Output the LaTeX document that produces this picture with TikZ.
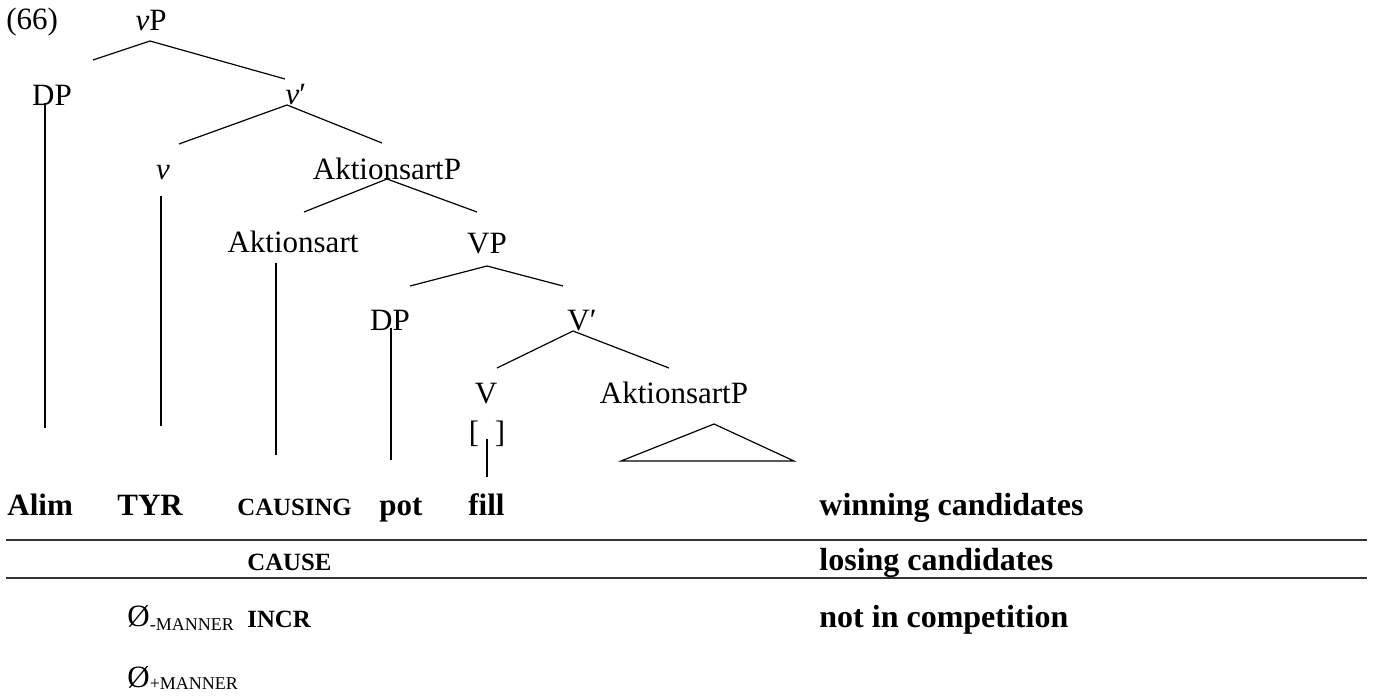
\documentclass[tikz,border=0pt]{standalone}
\usepackage{fontspec}
\setmainfont{Liberation Serif}
\newcommand{\mannersub}[2]{\raisebox{#1}{\fontsize{9}{11}\selectfont\mdseries #2MANNER}}
\begin{document}
\begin{tikzpicture}[x=0.5pt,y=-0.5pt,
  lbl/.style={inner sep=0pt, anchor=base, font=\fontsize{15.5}{18}\selectfont},
  lbll/.style={lbl, anchor=base west},
  wd/.style={lbll, font=\fontsize{15.5}{18}\selectfont\bfseries},
  key/.style={lbll, font=\fontsize{16}{19}\selectfont\bfseries},
  sc/.style={lbll, font=\fontsize{12.4}{15}\selectfont\bfseries},
  br/.style={line width=0.6pt},
  rule/.style={line width=0.9pt, black!80}]
\useasboundingbox (0,0) rectangle (1379,695);

% ---- tree labels ----
\node[lbll] (ex)   at (6,30)    {(66)};
\node[lbl]  (vP)   at (151,31)  {\textit{v}P};
\node[lbl]  (DPa)  at (52,106)  {DP};
\node[lbl]  (vbar) at (296,105) {\textit{v}′};
\node[lbl]  (v)    at (163,180) {\textit{v}};
\node[lbl]  (AkPa) at (387,180) {AktionsartP};
\node[lbl]  (Ak)   at (293,252) {Aktionsart};
\node[lbl]  (VP)   at (487,253) {VP};
\node[lbl]  (DPb)  at (390,330) {DP};
\node[lbl]  (Vbar) at (582,330) {V′};
\node[lbl]  (V)    at (486,403) {V};
\node[lbl]  (AkPb) at (674,403) {AktionsartP};
\node[lbl]  (brk)  at (487,442) {[\hspace{0.5em}]};

% ---- branch points ----
\coordinate (vP-t)   at (150,41);
\coordinate (vP-l)   at (93,60);
\coordinate (vP-r)   at (285,79);
\coordinate (vb-t)   at (287,105);
\coordinate (vb-l)   at (179,144);
\coordinate (vb-r)   at (382,143);
\coordinate (AkPa-t) at (387,179);
\coordinate (AkPa-l) at (304,212);
\coordinate (AkPa-r) at (477,212);
\coordinate (VP-t)   at (487,266);
\coordinate (VP-l)   at (410,286);
\coordinate (VP-r)   at (563,286);
\coordinate (Vb-t)   at (573,331);
\coordinate (Vb-l)   at (497,368);
\coordinate (Vb-r)   at (669,368);
\coordinate (tri-t)  at (714,424);
\coordinate (tri-l)  at (621,461);
\coordinate (tri-r)  at (794,461);

\draw[br] (vP-l) -- (vP-t) -- (vP-r);
\draw[br] (vb-l) -- (vb-t) -- (vb-r);
\draw[br] (AkPa-l) -- (AkPa-t) -- (AkPa-r);
\draw[br] (VP-l) -- (VP-t) -- (VP-r);
\draw[br] (Vb-l) -- (Vb-t) -- (Vb-r);
\draw[br] (tri-t) -- (tri-l) -- (tri-r) -- cycle;

% ---- vertical association lines ----
\coordinate (DPa-u) at (45,103);  \coordinate (DPa-d) at (45,428);
\coordinate (v-u)   at (161,196); \coordinate (v-d)   at (161,426);
\coordinate (Ak-u)  at (276,263); \coordinate (Ak-d)  at (276,455);
\coordinate (DPb-u) at (391,328); \coordinate (DPb-d) at (391,460);
\coordinate (brk-u) at (487,439); \coordinate (brk-d) at (487,477);
\draw[br] (DPa-u) -- (DPa-d);
\draw[br] (v-u) -- (v-d);
\draw[br] (Ak-u) -- (Ak-d);
\draw[br] (DPb-u) -- (DPb-d);
\draw[br] (brk-u) -- (brk-d);

% ---- candidate rows ----
\node[wd]  (alim) at (7,515)   {Alim};
\node[wd]  (tyr)  at (117,515) {TYR};
\node[sc]  (cing) at (237,515) {CAUSING};
\node[wd]  (pot)  at (379,515) {pot};
\node[wd]  (fill) at (468,515) {fill};
\node[key] (win)  at (819,515) {winning candidates};

\coordinate (r1-l) at (6,540);  \coordinate (r1-r) at (1367,540);
\coordinate (r2-l) at (6,578);  \coordinate (r2-r) at (1367,578);
\draw[rule] (r1-l) -- (r1-r);
\draw[rule] (r2-l) -- (r2-r);

\node[sc]  (cause) at (247,570) {CAUSE};
\node[key] (lose)  at (819,570) {losing candidates};

\node[lbll] (zm)   at (127,626) {Ø\mannersub{-2pt}{-}};
\node[sc]   (incr) at (247,627) {INCR};
\node[key]  (nic)  at (819,627) {not in competition};
\node[lbll] (zp)   at (127,687) {Ø\mannersub{-1pt}{+}};
\end{tikzpicture}
\end{document}
